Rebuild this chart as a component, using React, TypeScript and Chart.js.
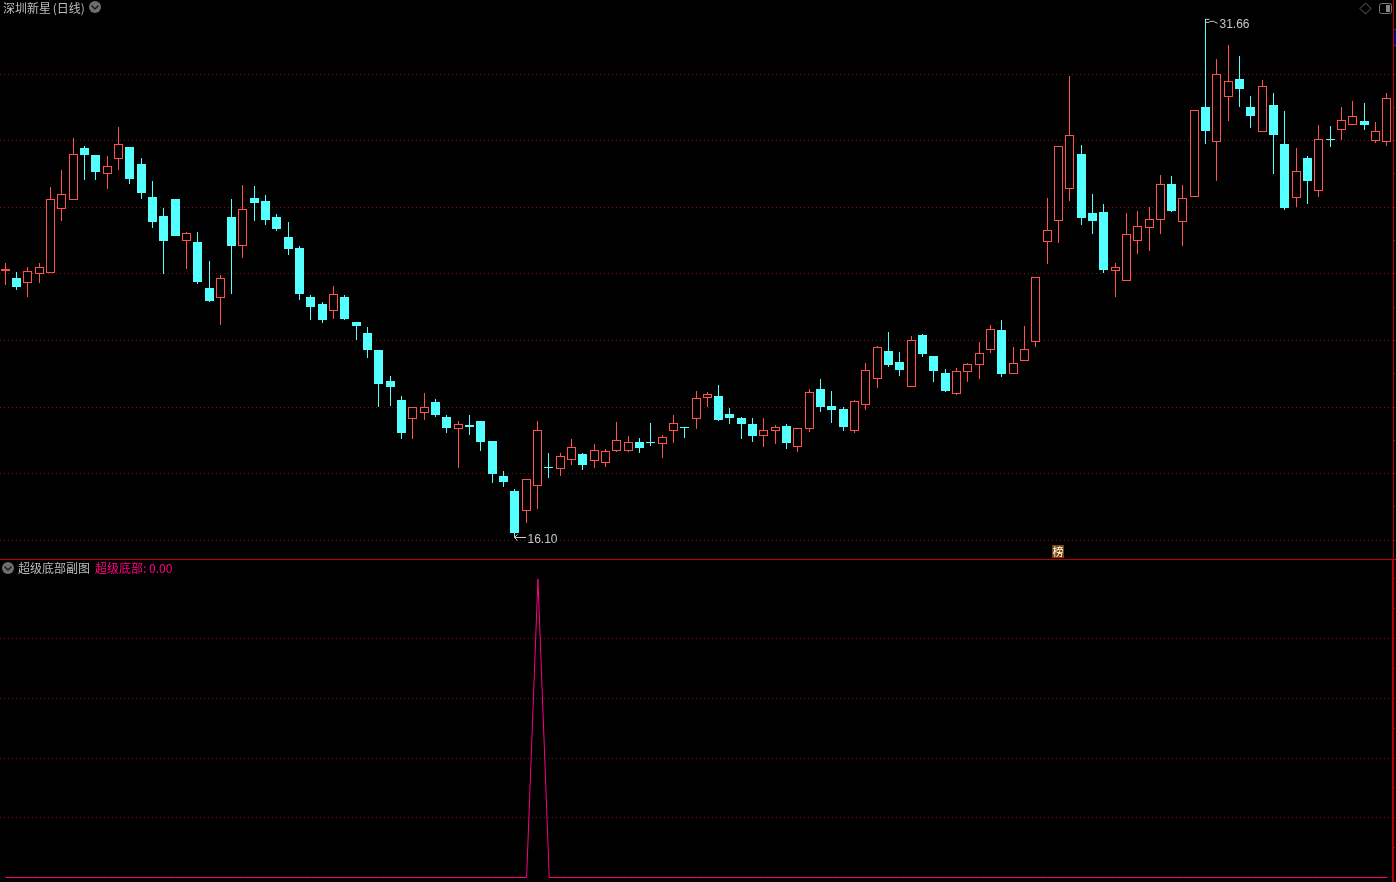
import React, { useEffect, useRef } from "react";
import { Chart, registerables } from "chart.js";

Chart.register(...registerables);

const opens = [
  24.09,23.88,23.73,24.00,24.03,25.95,26.22,27.78,27.57,27.00,
  27.45,27.81,27.30,26.31,25.74,26.25,24.99,24.96,23.58,23.28,
  25.71,24.84,26.28,26.19,25.71,25.11,24.78,23.31,23.10,22.89,
  23.31,22.56,22.23,21.71,20.78,20.21,19.64,19.82,20.15,19.70,
  19.34,19.46,19.58,18.98,17.93,17.48,16.88,17.63,18.20,18.14,
  18.41,18.59,18.38,18.32,18.68,18.68,18.95,18.95,18.89,19.28,
  19.40,19.64,20.27,20.33,19.79,19.67,19.49,19.13,19.28,19.43,
  18.80,19.34,20.54,20.03,19.94,19.28,20.06,20.84,21.68,21.35,
  20.60,22.17,21.53,21.02,20.39,21.05,21.26,21.71,22.32,20.99,
  21.38,21.95,24.96,25.59,26.55,27.60,25.83,25.86,24.09,23.79,
  24.99,25.38,25.62,26.70,25.56,26.31,29.01,27.96,29.31,29.85,
  29.01,28.26,29.07,27.90,26.28,27.48,26.49,28.05,28.32,28.47,
  28.59,27.99,27.96,
];
const closes = [
  24.15,23.61,24.09,24.21,26.25,26.40,27.60,27.57,27.06,27.24,
  27.90,26.85,26.43,25.56,24.99,25.14,25.23,23.76,23.19,23.88,
  24.84,25.95,26.13,25.62,25.35,24.75,23.40,23.01,22.62,23.40,
  22.65,22.44,21.71,20.69,20.60,19.22,20.00,20.00,19.76,19.37,
  19.49,19.40,18.95,17.99,17.75,16.22,17.84,19.31,18.17,18.53,
  18.80,18.26,18.71,18.68,19.01,18.95,18.77,18.92,19.10,19.52,
  19.37,20.27,20.39,19.61,19.67,19.49,19.13,19.31,19.40,18.92,
  19.37,20.45,20.00,19.91,19.40,20.18,21.11,21.80,21.26,21.11,
  22.02,21.59,21.08,20.48,21.08,21.30,21.62,22.35,20.99,21.33,
  21.74,23.91,25.32,27.84,28.17,25.68,25.59,24.12,24.21,25.20,
  25.44,25.65,26.70,25.89,26.28,28.92,28.29,30.00,29.79,29.55,
  28.74,29.64,28.17,25.98,27.09,26.79,28.05,28.02,28.62,28.74,
  28.47,28.29,29.28,
];
const highs = [
  24.33,24.06,24.21,24.33,26.61,27.12,28.08,27.84,27.57,27.54,
  28.41,27.81,27.48,26.79,25.98,26.25,25.26,25.26,24.39,23.97,
  26.25,26.67,26.64,26.37,25.80,25.56,24.84,23.37,23.16,23.64,
  23.37,22.56,22.41,21.71,20.93,20.33,20.00,20.42,20.24,19.76,
  19.58,19.76,19.58,18.98,18.08,17.54,17.84,19.58,18.62,18.62,
  19.04,18.62,18.89,18.74,19.55,19.13,19.07,19.52,19.16,19.76,
  19.40,20.48,20.45,20.66,19.97,19.70,19.67,19.67,19.46,19.49,
  19.37,20.54,20.84,20.48,20.00,20.21,21.33,21.83,22.26,21.65,
  22.14,22.20,21.53,21.14,21.17,21.33,21.95,22.47,22.62,21.80,
  22.44,23.91,26.28,27.84,29.94,27.87,26.40,26.10,24.33,25.83,
  25.89,26.01,26.97,26.94,26.67,28.92,31.66,30.45,30.87,30.54,
  29.34,29.82,29.43,28.89,27.78,27.54,28.47,28.44,29.01,29.19,
  29.13,28.56,29.43,
];
const lows = [
  23.67,23.52,23.31,23.73,24.03,25.59,26.22,26.82,26.82,26.55,
  27.12,26.70,26.25,25.38,24.00,25.14,24.15,23.70,23.16,22.47,
  23.40,24.48,25.59,25.47,25.29,24.57,23.22,22.62,22.53,22.65,
  22.62,22.02,21.47,20.00,20.03,19.04,19.04,19.61,19.70,19.22,
  18.17,19.16,18.68,17.72,17.60,16.10,16.52,16.94,17.87,17.93,
  18.26,18.11,18.17,18.20,18.65,18.65,18.62,18.83,18.47,18.92,
  19.07,19.34,20.00,19.58,19.49,19.04,18.95,18.80,18.89,18.74,
  18.65,19.25,19.85,19.52,19.28,19.22,19.91,20.57,21.20,20.93,
  20.60,21.50,20.75,20.45,20.36,20.75,20.84,21.62,20.90,20.99,
  21.38,21.80,24.30,24.93,26.19,25.47,25.20,24.03,23.31,23.79,
  24.60,24.69,25.20,25.86,24.84,26.31,27.90,26.79,28.59,29.01,
  28.38,28.26,27.00,25.92,26.01,26.10,26.31,27.81,28.02,28.47,
  28.32,27.93,27.84,
];
const signal = [
  0,0,0,0,0,0,0,0,0,0,
  0,0,0,0,0,0,0,0,0,0,
  0,0,0,0,0,0,0,0,0,0,
  0,0,0,0,0,0,0,0,0,0,
  0,0,0,0,0,0,0,100,0,0,
  0,0,0,0,0,0,0,0,0,0,
  0,0,0,0,0,0,0,0,0,0,
  0,0,0,0,0,0,0,0,0,0,
  0,0,0,0,0,0,0,0,0,0,
  0,0,0,0,0,0,0,0,0,0,
  0,0,0,0,0,0,0,0,0,0,
  0,0,0,0,0,0,0,0,0,0,
  0,0,0,
];
const labels = opens.map((_, i) => String(i));
const priceTicks = [16,17,18,19,20,21,22,23,24,25,26,27,28,29,30,31];
const priceGrid = [16,18,20,22,24,26,28,30];
const signalTicks = [10,20,30,40,50,60,70,80,90,100];
const signalGrid = [20,40,60,80];

const RED = "#ff4f4f";
const CYAN = "#54ffff";
const AXIS = "#c00000";
const DOT = "#7c1010";
const PINK = "#ff0080";
const TEXT = "#bdbdbd";
const CJK = '"Noto Sans CJK SC", "Liberation Sans", sans-serif';

const snapPlugin = {
  id: "snap",
  beforeDatasetsDraw(chart: any) {
    chart.data.datasets.forEach((ds: any, i: number) => {
      if (ds.type === "line") return;
      chart.getDatasetMeta(i).data.forEach((el: any) => {
        el.x = Math.floor(el.x - 0.5) + 0.5;
        const top = Math.round(Math.min(el.y, el.base));
        let bottom = Math.round(Math.max(el.y, el.base));
        if (bottom <= top) bottom = top + 1;
        el.y = top;
        el.base = bottom;
        el.height = bottom - top;
      });
    });
  },
};

const extremesPlugin = {
  id: "extremes",
  afterDatasetsDraw(chart: any) {
    const { ctx, scales } = chart;
    const hi = Math.max(...highs);
    const lo = Math.min(...lows);
    const hx = Math.floor(scales.x.getPixelForValue(highs.indexOf(hi)) - 0.5) + 0.5;
    const lx = Math.floor(scales.x.getPixelForValue(lows.indexOf(lo)) - 0.5) + 0.5;
    const hy = scales.y.getPixelForValue(hi);
    const ly = scales.y.getPixelForValue(lo);
    ctx.save();
    ctx.strokeStyle = "#c8c8c8";
    ctx.fillStyle = "#c8c8c8";
    ctx.lineWidth = 1;
    ctx.font = '12px "Liberation Sans", sans-serif';
    ctx.textBaseline = "middle";
    ctx.textAlign = "left";
    ctx.beginPath();
    ctx.moveTo(hx, hy + 0.5);
    ctx.lineTo(hx + 4, hy + 0.5);
    ctx.moveTo(hx, hy + 3.5);
    ctx.lineTo(hx + 4, hy + 3.5);
    ctx.moveTo(hx + 4, hy + 2.5);
    ctx.lineTo(hx + 8, hy + 2.5);
    ctx.lineTo(hx + 12, hy + 4.5);
    ctx.stroke();
    ctx.fillText(hi.toFixed(2), hx + 14, hy + 6);
    ctx.beginPath();
    const ay = Math.round(ly) + 0.5;
    ctx.moveTo(lx + 11.5, ay);
    ctx.lineTo(lx, ay);
    ctx.moveTo(lx + 3, ay - 3);
    ctx.lineTo(lx, ay);
    ctx.lineTo(lx + 3, ay + 3);
    ctx.stroke();
    ctx.fillText(lo.toFixed(2), lx + 13, ly + 3);
    ctx.restore();
  },
};

function axisY(min: number, max: number, ticks: number[], grid: number[], borderWidth: number) {
  return {
    position: "right",
    min,
    max,
    afterBuildTicks(scale: any) {
      scale.ticks = ticks.map((value) => ({ value }));
    },
    ticks: { display: false },
    border: { display: true, color: AXIS, width: borderWidth, dash: [1, 3] },
    grid: {
      tickLength: 2,
      tickColor: AXIS,
      tickWidth: 1,
      color: (c: any) => (c.tick && grid.includes(c.tick.value) ? DOT : "rgba(0,0,0,0)"),
      lineWidth: 1,
    },
  };
}

function Circle({ x, y }: { x: number; y: number }) {
  return (
    <svg style={{ position: "absolute", left: x - 7, top: y - 7 }} width={14} height={14}>
      <circle cx={7} cy={7} r={6} fill="#6e6e6e" />
      <path d="M3.5 5.5 L7 9 L10.5 5.5" stroke="#1c1c1c" strokeWidth={1.5} fill="none" />
    </svg>
  );
}

function Label({ x, y, color, tight, children }: { x: number; y: number; color: string; tight?: boolean; children: React.ReactNode }) {
  return (
    <div
      style={{
        position: "absolute",
        left: x,
        top: y,
        color,
        font: `12px/16px ${CJK}`,
        wordSpacing: tight ? "-1px" : "0",
        whiteSpace: "pre",
      }}
    >
      {children}
    </div>
  );
}

export default function App() {
  const topRef = useRef<HTMLCanvasElement>(null);
  const bottomRef = useRef<HTMLCanvasElement>(null);

  useEffect(() => {
    document.body.style.margin = "0";
    document.body.style.background = "#000";
    const colors = opens.map((o, i) => (closes[i] >= o ? RED : CYAN));
    const top = new Chart(topRef.current as HTMLCanvasElement, {
      type: "bar",
      data: {
        labels,
        datasets: [
          {
            label: "body",
            data: opens.map((o, i) => [o, closes[i]]),
            barThickness: 9,
            grouped: false,
            backgroundColor: colors.map((c) => (c === RED ? "#000000" : CYAN)),
            borderColor: colors,
            borderWidth: 1,
            borderSkipped: false,
            inflateAmount: 0,
          },
          {
            label: "wick",
            data: lows.map((l, i) => [l, highs[i]]),
            barThickness: 1,
            grouped: false,
            backgroundColor: colors,
            borderWidth: 0,
            borderSkipped: false,
            inflateAmount: 0,
          },
        ],
      } as any,
      options: {
        animation: false,
        responsive: false,
        events: [],
        layout: { padding: { right: 1 } },
        plugins: { legend: { display: false }, tooltip: { enabled: false } },
        scales: {
          x: { display: false },
          y: axisY(15.438, 32.225, priceTicks, priceGrid, 1),
        },
      } as any,
      plugins: [snapPlugin, extremesPlugin],
    });
    const bottom = new Chart(bottomRef.current as HTMLCanvasElement, {
      type: "line",
      data: {
        labels,
        datasets: [
          {
            label: "超级底部",
            data: signal,
            borderColor: PINK,
            borderWidth: 1,
            pointRadius: 0,
            tension: 0,
          },
        ],
      },
      options: {
        animation: false,
        responsive: false,
        events: [],
        layout: { padding: { right: 1 } },
        plugins: { legend: { display: false }, tooltip: { enabled: false } },
        scales: {
          x: { display: false, offset: true },
          y: axisY(-1.5075, 106.365, signalTicks, signalGrid, 2),
        },
      } as any,
    });
    return () => {
      top.destroy();
      bottom.destroy();
    };
  }, []);

  return (
    <div style={{ position: "fixed", left: 0, top: 0, width: 1396, height: 882, background: "#000", overflow: "hidden" }}>
      <canvas ref={topRef} width={1396} height={559} style={{ position: "absolute", left: 0, top: 0, display: "block" }} />
      <canvas ref={bottomRef} width={1396} height={322} style={{ position: "absolute", left: 0, top: 560, display: "block" }} />
      <div style={{ position: "absolute", left: 0, top: 559, width: 1396, height: 1, background: AXIS }} />

      <Label x={3} y={0} color={TEXT} tight>深圳新星 (日线)</Label>
      <Circle x={95} y={7} />
      <Circle x={8} y={568} />
      <Label x={18} y={560} color={TEXT}>超级底部副图</Label>
      <Label x={95} y={560} color={PINK}>超级底部: 0.00</Label>

      <svg style={{ position: "absolute", left: 1358, top: 1 }} width={36} height={16}>
        <path d="M7.5 2 L13 7.5 L7.5 13 L2 7.5 Z" stroke="#666" fill="none" />
        <rect x={21.5} y={2.5} width={12} height={10} rx={2} stroke="#777" fill="none" />
        <rect x={28} y={4} width={4} height={7} fill="#888" />
      </svg>

      <div style={{ position: "absolute", left: 1394, top: 29, width: 2, height: 17, background: "#000080", borderTop: "1px solid #c00000", borderBottom: "1px solid #c00000", boxSizing: "border-box" }} />

      <div
        style={{
          position: "absolute",
          left: 1052,
          top: 545,
          width: 12,
          height: 13,
          background: "#7a4200",
          color: "#ffffff",
          font: `11px/13px ${CJK}`,
          textAlign: "center",
        }}
      >
        榜
      </div>
    </div>
  );
}
